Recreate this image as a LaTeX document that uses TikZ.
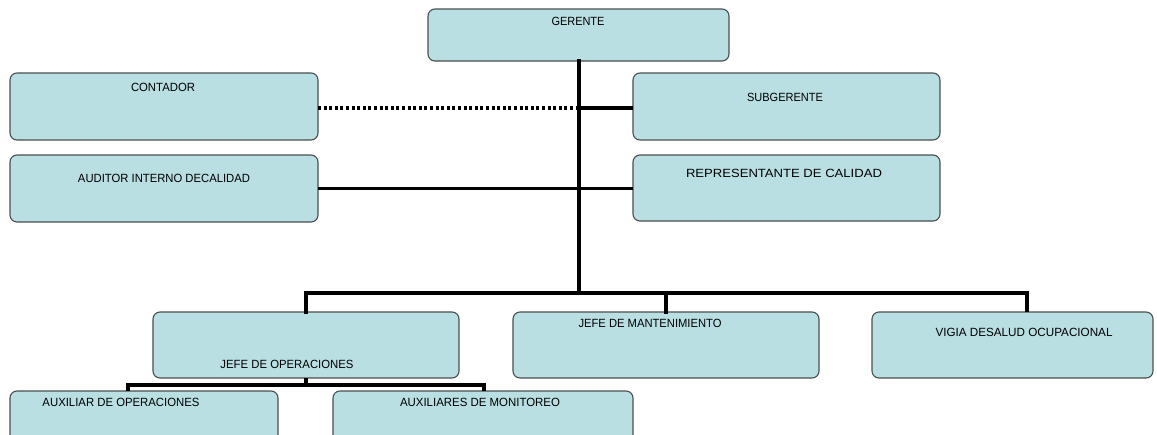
\documentclass[tikz,border=0pt]{standalone}
\usepackage{fontspec}
\setmainfont{Liberation Sans}
\usepackage{graphicx}
\definecolor{boxfill}{HTML}{B9DFE2}
\definecolor{boxline}{HTML}{4A4F50}
% caption squeezed to a given width at a fixed cap height
\newcommand{\caplbl}[2]{\resizebox{#1pt}{8.3pt}{#2}}
\begin{document}
\begin{tikzpicture}[x=1pt,y=-1pt,
  post/.style={draw=boxline,line width=1.1pt,fill=boxfill,rounded corners=7pt,
    inner sep=0pt,outer sep=0pt},
  lbl/.style={inner sep=0pt,anchor=center,text=black},
  link/.style={line width=3.3pt,line cap=rect},
  dotlink/.style={line width=4pt,dash pattern=on 3pt off 2.6pt}]
\useasboundingbox (0,0) rectangle (1157,434);
\clip (0,0) rectangle (1157,434);
\fill[white] (0,0) rectangle (1157,434);

% positions
\node[post,minimum width=301pt,minimum height=52pt] (g) at (578.5,35) {};
\node[post,minimum width=308pt,minimum height=67pt] (con) at (164,106.5) {};
\node[post,minimum width=308pt,minimum height=67pt] (aud) at (164,188.5) {};
\node[post,minimum width=307pt,minimum height=67pt] (sub) at (786.5,106.5) {};
\node[post,minimum width=307pt,minimum height=66pt] (rep) at (786.5,188) {};
\node[post,minimum width=306pt,minimum height=66pt] (jop) at (306,345) {};
\node[post,minimum width=306pt,minimum height=66pt] (jma) at (666,345) {};
\node[post,minimum width=281pt,minimum height=66pt] (vig) at (1012.5,345) {};
\node[post,minimum width=268pt,minimum height=60pt] (ax1) at (144,421) {};
\node[post,minimum width=300pt,minimum height=60pt] (ax2) at (483,421) {};

% captions
\node[lbl] (tg) at (578,21) {\caplbl{53}{GERENTE}};
\node[lbl] (tcon) at (163,87) {\caplbl{64}{CONTADOR}};
\node[lbl] (taud) at (164,178) {\caplbl{172}{AUDITOR INTERNO DECALIDAD}};
\node[lbl] (tsub) at (785,97) {\caplbl{76}{SUBGERENTE}};
\node[lbl] (trep) at (784,173) {\caplbl{196}{REPRESENTANTE DE CALIDAD}};
\node[lbl] (tjop) at (287,364) {\caplbl{133}{JEFE DE OPERACIONES}};
\node[lbl] (tjma) at (650,323) {\caplbl{143}{JEFE DE MANTENIMIENTO}};
\node[lbl] (tvig) at (1024,332) {\caplbl{177}{VIGIA DESALUD OCUPACIONAL}};
\node[lbl] (tax1) at (121,402) {\caplbl{157}{AUXILIAR DE OPERACIONES}};
\node[lbl] (tax2) at (480,402) {\caplbl{160}{AUXILIARES DE MONITOREO}};

% junction points
\coordinate (trunk) at (579,293);
\coordinate (jc) at (579,108);
\coordinate (busR) at (1027,293);
\coordinate (sb) at (306,385);

% main trunk and staff links
\draw[link] (g.south -| trunk) -- (trunk);
\draw[dotlink] (con.east |- jc) -- (jc);
\draw[link,line cap=butt] (jc) -- (sub.west |- jc);
\draw[link,line cap=butt] (aud.east) -- (rep.west |- aud.east);

% lower bus to the department heads
\draw[link] (jop.north) |- (trunk);
\draw[link] (trunk) -| (jma.north);
\draw[link,line cap=butt] (trunk) -| (busR) -- (busR |- vig.north);

% operations subtree
\draw[link,line cap=butt] (jop.south) -- (sb);
\draw[link,line cap=butt] (sb) -| (ax1.north -| 128,0);
\draw[link,line cap=butt] (sb) -| (ax2.north -| 484,0);
\end{tikzpicture}
\end{document}
